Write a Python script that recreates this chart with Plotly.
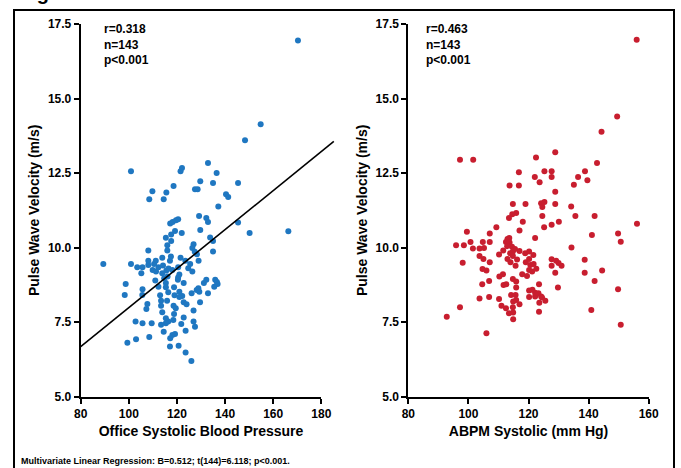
import plotly.graph_objects as go

# ---------------- data ----------------
office_sbp = [170.3,154.8,148.3,100.9,108.5,109.8,114.5,115.6,118.6,121.5,122.1,127.5,128.6,129.7,132.9,135,136.5,137.2,140.4,141.3,
              145.4,129.2,132.2,132.9,145.4,150.2,117.2,118.2,119.6,120.5,119.2,117.6,122,129.7,115.4,117.6,133.8,135,116,108.1,
              116,126.9,126.4,135,127.4,128.3,166.3,89.4,100.9,103.5,105.7,108.1,108.1,111.2,113.9,117.1,121.5,123.5,129,105.2,
              109.9,111.3,112.3,113.9,115.6,114.7,116.1,118.1,120.5,124.7,126.4,120.4,122.8,115.4,115.4,112.3,118.8,98.7,98.3,105.7,
              105.6,116.4,115.9,113.4,113.4,121,122.2,121,122.8,126.1,128.2,128.9,129.3,131.2,132.2,132.9,135.9,136.9,135.5,136.6,
              129.6,107.7,107.3,113.9,118.6,119.5,118.8,115.4,116.4,115.4,118.5,122.8,121.8,126.9,126.9,127.5,102.8,105.7,109.5,113.4,
              114.5,123.6,108.5,118.1,119.2,117.2,103,99.4,117.1,120.7,123.6,126,
              114.2,116.5,121,110.5,119,124,113,120.5,117.5,125.5,111]
office_pwv = [16.95,14.14,13.6,12.56,11.62,11.89,11.62,11.85,12.07,12.56,12.67,11.96,11.96,12.23,12.84,12.17,12.5,11.38,11.79,11.7,
              12.17,11.06,10.99,10.86,10.84,10.49,10.81,10.86,10.92,10.95,10.56,10.44,10.49,10.59,10.33,10.22,10.34,10.22,10.08,9.9,
              9.9,10.11,9.99,9.87,9.86,9.78,10.55,9.45,9.45,9.34,9.34,9.56,9.42,9.56,9.66,9.56,9.66,9.56,9.56,9.14,
              9.25,9.2,9.34,9.14,9.23,8.97,9.03,9.25,9.34,9.31,9.2,8.92,8.81,8.81,8.67,8.69,8.67,8.78,8.41,8.6,
              8.41,8.5,8.22,8.22,8.05,8.52,8.38,8.34,8.17,8.47,8.58,8.64,8.52,8.81,8.92,8.47,8.92,8.78,8.69,8.85,
              8.17,8.11,7.94,7.83,8.05,7.97,7.77,7.63,7.52,7.46,7.57,7.66,7.44,7.89,7.52,7.35,7.52,7.46,7.46,7.41,
              7.18,7.21,7.0,7.07,7.1,6.96,6.93,6.81,6.68,6.71,6.48,6.2,
              9.4,9.3,9.1,9.45,8.4,8.1,8.4,9.0,9.7,9.45,8.9]

abpm_sbp = [156,149.5,144.3,97.2,101.6,122.5,128.9,142.8,138.8,136.5,139.6,135.1,116.8,125.3,127.7,127.7,122.1,123.7,113.7,116.8,
            128.9,114.8,119,124.2,125.3,124.6,128.9,134.2,135.6,142,141.1,134.3,130.1,127.7,125.2,124.6,115.9,114.6,113.5,118.1,
            117,109.3,107.1,99.5,122.2,113.6,100.7,104.8,107.1,95.9,98.5,101.5,103.7,105.2,112.5,117,118.9,120.2,110.2,103.7,
            105,98.1,107.1,104.7,106,104.6,106.9,103.7,106.9,97.2,92.8,106,111.6,113.9,114.8,114,115.7,110.3,111.5,111.7,
            112.6,114.8,115.9,115.9,117.9,119.1,120.2,120.6,121.7,120.2,121.2,122.6,114.2,115.7,115.9,114.9,110.2,111,112.5,113.5,
            114.8,114.9,114.9,120.2,120.2,122.2,122.2,123.3,124.2,125.6,123.6,123.5,123.5,127.7,129.2,130,131,127.7,128.9,129.8,
            138.7,138.7,142,144.5,140.9,156.1,149.8,150.7,149.8,150.7,
            113,113.7,114.5,114.8,112.9,115.5,116.2,121.6,119.5,113,121.3,117,124.5]
abpm_pwv = [16.97,14.4,13.89,12.95,12.95,13.02,13.2,12.84,12.56,12.37,12.26,12.11,12.53,12.56,12.56,12.37,12.37,12.19,12.08,12.08,
            11.87,11.46,11.46,11.49,11.53,11.36,11.46,11.38,11.06,11.06,10.42,10.0,10.87,10.77,10.68,11.06,11.16,11.12,10.99,10.87,
            10.57,10.68,10.47,10.53,10.32,10.32,10.19,10.19,10.19,10.08,10.08,9.97,9.97,9.99,10.19,9.89,9.81,9.87,9.77,9.72,
            9.62,9.49,9.51,9.28,9.23,8.77,8.88,8.29,8.34,8.0,7.68,7.13,9.9,9.81,9.72,9.51,9.39,9.03,9.11,8.75,
            8.77,8.95,8.86,8.66,9.11,9.51,9.62,9.42,9.45,9.25,9.2,9.29,8.41,8.41,8.24,8.19,8.28,8.05,7.97,7.8,
            8.0,7.82,7.6,8.56,8.34,8.49,8.36,8.47,8.36,8.22,8.15,7.85,8.77,9.61,9.56,9.48,9.39,9.39,9.16,8.66,
            9.59,9.16,8.88,9.23,7.91,10.8,10.47,10.2,8.6,7.41,
            10.29,10.17,10.03,9.87,10.05,9.95,9.6,9.75,9.05,9.62,8.59,8.1,8.33]

# regression line endpoints (office panel)
reg_x = [80, 185.2]
reg_y = [6.68, 13.56]

x_ticks_left = [80, 100, 120, 140, 160, 180]
x_ticks_right = [80, 100, 120, 140, 160]
y_ticks = [5.0, 7.5, 10.0, 12.5, 15.0, 17.5]

stats_left = ["r=0.318", "n=143", "p<0.001"]
stats_right = ["r=0.463", "n=143", "p<0.001"]
footnote = "Multivariate Linear Regression: B=0.512; t(144)=6.118; p<0.001."

BLUE = "#1f77c1"
RED = "#c81e2f"
FONT = "Liberation Sans, Arial, sans-serif"

W, H = 681, 468
def fx(px):
    return px / W
def fy(py):
    return (H - py) / H

xl = [fx(80.7), fx(321.3)]
xr = [fx(408.3), fx(648.7)]
yd = [fy(396.7), fy(24.0)]

fig = go.Figure()
fig.add_trace(go.Scatter(x=office_sbp, y=office_pwv, mode="markers",
                         marker=dict(size=6, color=BLUE), xaxis="x", yaxis="y",
                         hoverinfo="skip", cliponaxis=False))
fig.add_trace(go.Scatter(x=abpm_sbp, y=abpm_pwv, mode="markers",
                         marker=dict(size=6, color=RED), xaxis="x2", yaxis="y2",
                         hoverinfo="skip", cliponaxis=False))
fig.add_trace(go.Scatter(x=reg_x, y=reg_y, mode="lines",
                         line=dict(color="black", width=1.6), xaxis="x3", yaxis="y3",
                         hoverinfo="skip"))

tickfont = dict(family=FONT, size=12, color="black", weight="bold")
titlefont = dict(family=FONT, size=14, color="black", weight="bold")

def xaxis(dom, ticks, title, anchor):
    return dict(domain=dom, range=[80, ticks[-1]], tickvals=ticks, ticks="outside",
                ticklen=5, tickwidth=2, tickcolor="black", showline=True, linewidth=2,
                linecolor="black", showgrid=False, zeroline=False, tickfont=tickfont,
                anchor=anchor, automargin=False,
                title=dict(text=title, font=titlefont, standoff=6), fixedrange=True)

def yaxis(dom, anchor, title):
    return dict(domain=dom, range=[5, 17.5], tickvals=y_ticks, tickformat=".1f",
                ticks="outside", ticklen=5, tickwidth=2, tickcolor="black", showline=True,
                linewidth=2, linecolor="black", showgrid=False, zeroline=False,
                tickfont=tickfont, anchor=anchor, automargin=False,
                title=dict(text=title, font=titlefont, standoff=5), fixedrange=True)

ext = fx(80.7 + (186 - 80) * (321.3 - 80.7) / 100)
fig.update_layout(
    width=W, height=H, margin=dict(l=0, r=0, t=0, b=0),
    paper_bgcolor="white", plot_bgcolor="rgba(0,0,0,0)", showlegend=False,
    xaxis=xaxis(xl, x_ticks_left, "Office Systolic Blood Pressure", "y"),
    yaxis=yaxis(yd, "x", "Pulse Wave Velocity (m/s)"),
    xaxis2=xaxis(xr, x_ticks_right, "ABPM Systolic (mm Hg)", "y2"),
    yaxis2=yaxis(yd, "x2", "Pulse Wave Velocity (m/s)"),
    xaxis3=dict(domain=[xl[0], ext], range=[80, 186], visible=False, anchor="y3", automargin=False),
    yaxis3=dict(domain=yd, range=[5, 17.5], visible=False, anchor="x3", automargin=False),
)

statfont = dict(family=FONT, size=12, color="black", weight="bold")
fig.add_annotation(xref="x domain", yref="y domain", x=0.087, y=1.01, xanchor="left",
                   yanchor="top", align="left", showarrow=False,
                   text="<br>".join(stats_left), font=statfont)
fig.add_annotation(xref="x2 domain", yref="y2 domain", x=0.066, y=1.01, xanchor="left",
                   yanchor="top", align="left", showarrow=False,
                   text="<br>".join(stats_right), font=statfont)
fig.add_annotation(xref="paper", yref="paper", x=fx(19), y=fy(461), xanchor="left",
                   yanchor="middle", showarrow=False, text=footnote,
                   font=dict(family=FONT, size=9, color="black", weight="bold"))
# partially visible figure heading at the very top (only the descender shows)
fig.add_annotation(xref="paper", yref="paper", x=fx(17), y=fy(6), xanchor="left",
                   yanchor="bottom", showarrow=False, text="Fig",
                   font=dict(family=FONT, size=20, color="black", weight="bold"))

# outer frame
fig.add_shape(type="rect", xref="paper", yref="paper", x0=fx(14), x1=fx(674),
              y0=-0.05, y1=fy(10), line=dict(color="black", width=2), layer="above")

fig.write_html("out.html", config={"displayModeBar": False},
               post_script="document.body.style.margin='0px';")
